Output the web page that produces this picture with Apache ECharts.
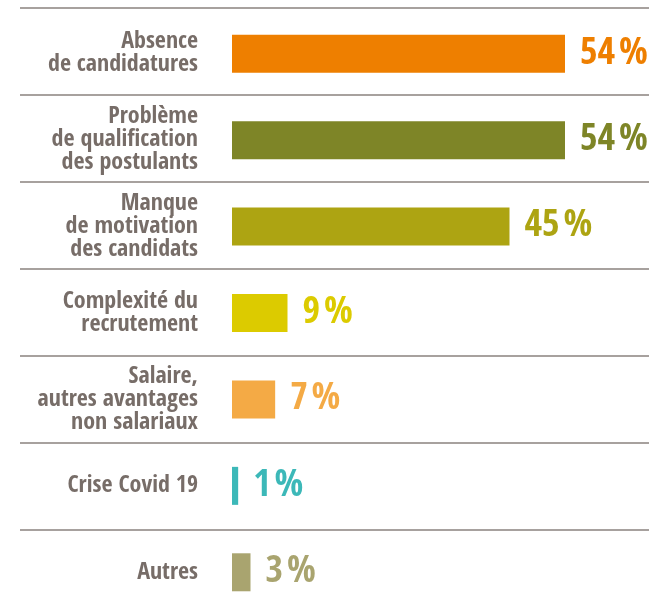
<!DOCTYPE html>
<html>
<head>
<meta charset="utf-8">
<style>
  html, body { margin: 0; padding: 0; background: #fff; }
  #chart { width: 649px; height: 611px; }
</style>
<script src="https://cdn.jsdelivr.net/npm/echarts@6/dist/echarts.min.js"></script>
</head>
<body>
<div id="chart"></div>
<script>
// reasons given (share of answers, %)
const categories = [
  'Absence\nde candidatures',
  'Problème\nde qualification\ndes postulants',
  'Manque\nde motivation\ndes candidats',
  'Complexité du\nrecrutement',
  'Salaire,\nautres avantages\nnon salariaux',
  'Crise Covid 19',
  'Autres',
]
const values = [54, 54, 45, 9, 7, 1, 3]
const barColors = ['#ee7f00', '#7e8527', '#ada412', '#dccb00', '#f4aa45', '#3cb8b8', '#a9a46f']

const fontFamily = '"Open Sans Condensed", "Liberation Sans Narrow", "Roboto Condensed", "DejaVu Sans Condensed", sans-serif'
const textColor = '#776d68'
const ruleColor = '#8a827e'

const chart = echarts.init(document.getElementById('chart'), null, { renderer: 'canvas' })

chart.setOption({
  animation: false,
  backgroundColor: '#fff',
  grid: [
    { left: 232, top: 10.5, width: 370, height: 605, outerBoundsMode: 'none', containLabel: false },
    { left: 20, right: 0, top: 7.5, height: 609, outerBoundsMode: 'none', containLabel: false },
  ],
  xAxis: [
    { type: 'value', gridIndex: 0, min: 0, max: 60, show: false },
    { type: 'value', gridIndex: 1, show: false },
  ],
  yAxis: [
    {
      type: 'category',
      gridIndex: 0,
      inverse: true,
      data: categories,
      axisLine: { show: false },
      axisTick: { show: false },
      splitLine: { show: false },
      axisLabel: {
        margin: 34,
        color: textColor,
        fontFamily,
        fontWeight: 'bold',
        fontSize: 24,
        lineHeight: 23,
        align: 'right',
      },
    },
    {
      type: 'category',
      gridIndex: 1,
      inverse: true,
      data: categories,
      axisLine: { show: false },
      axisTick: { show: false },
      axisLabel: { show: false },
      splitLine: { show: true, lineStyle: { color: ruleColor, width: 1.5 } },
    },
  ],
  series: [
    {
      type: 'bar',
      xAxisIndex: 0,
      yAxisIndex: 0,
      barWidth: 38,
      silent: true,
      data: values.map((v, i) => ({
        value: v,
        itemStyle: { color: barColors[i] },
        label: { color: barColors[i] },
      })),
      label: {
        show: true,
        position: 'right',
        distance: 15,
        fontFamily,
        fontWeight: 'bold',
        fontSize: 38,
        formatter: (p) => p.value + '\u200a%',
      },
    },
  ],
})
</script>
</body>
</html>
